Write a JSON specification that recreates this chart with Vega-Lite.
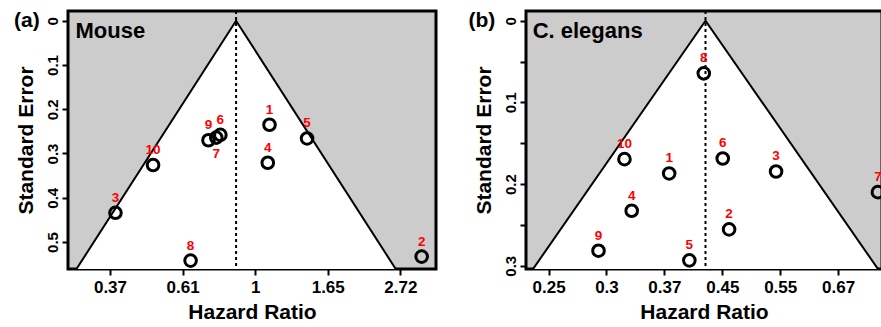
{
  "$schema": "https://vega.github.io/schema/vega-lite/v6.json",
  "padding": {"left": 12, "top": 8, "right": 0, "bottom": 0},
  "background": "white",
  "spacing": 90,
  "bounds": "flush",
  "config": {
    "view": {"fill": "#cccccc", "stroke": "black", "strokeWidth": 3},
    "font": "Liberation Sans",
    "axis": {
      "domain": false, "grid": false, "ticks": true, "tickColor": "black", "tickWidth": 2, "tickSize": 6,
      "labelFont": "Liberation Sans", "labelFontWeight": "bold", "labelFontSize": 17, "labelColor": "black",
      "titleFont": "Liberation Sans", "titleFontWeight": "bold", "titleFontSize": 21, "titleColor": "black",
      "labelOverlap": false, "labelPadding": 4
    },
    "axisY": {"labelFontSize": 15, "labelAngle": -90, "labelAlign": "center", "labelBaseline": "bottom", "labelPadding": 2, "titlePadding": 9},
    "axisX": {"titlePadding": 6}
  },
  "datasets": {
    "mouse": [
      {"id": 1, "hr": 1.104, "se": 0.235},
      {"id": 2, "hr": 3.149, "se": 0.533},
      {"id": 3, "hr": 0.382, "se": 0.434},
      {"id": 4, "hr": 1.091, "se": 0.321},
      {"id": 5, "hr": 1.430, "se": 0.266},
      {"id": 6, "hr": 0.787, "se": 0.258},
      {"id": 7, "hr": 0.765, "se": 0.264},
      {"id": 8, "hr": 0.641, "se": 0.542},
      {"id": 9, "hr": 0.725, "se": 0.270},
      {"id": 10, "hr": 0.495, "se": 0.326}
    ],
    "mouseFunnel": [
      {"se": 0, "lo": 0.877, "hi": 0.877},
      {"se": 0.6, "lo": 0.2706, "hi": 2.843}
    ],
    "mouseInfo": [{"center": 0.877, "name": "Mouse", "tag": "(a)"}],
    "worm": [
      {"id": 1, "hr": 0.374, "se": 0.187},
      {"id": 2, "hr": 0.460, "se": 0.2555},
      {"id": 3, "hr": 0.541, "se": 0.1846},
      {"id": 4, "hr": 0.3286, "se": 0.2327},
      {"id": 5, "hr": 0.401, "se": 0.2934},
      {"id": 6, "hr": 0.450, "se": 0.1687},
      {"id": 7, "hr": 0.769, "se": 0.2099},
      {"id": 8, "hr": 0.4215, "se": 0.0644},
      {"id": 9, "hr": 0.293, "se": 0.2816},
      {"id": 10, "hr": 0.3205, "se": 0.1695}
    ],
    "wormFunnel": [
      {"se": 0, "lo": 0.424, "hi": 0.424},
      {"se": 0.32, "lo": 0.2265, "hi": 0.7937}
    ],
    "wormInfo": [{"center": 0.424, "name": "C. elegans", "tag": "(b)"}]
  },
  "hconcat": [
    {
      "width": 368, "height": 258,
      "layer": [
        {
          "data": {"name": "mouseFunnel"},
          "mark": {"type": "area", "orient": "horizontal", "fill": "white", "stroke": "black", "strokeWidth": 2, "clip": true},
          "encoding": {
            "y": {"field": "se", "type": "quantitative",
              "scale": {"domain": [-0.022, 0.561], "reverse": true, "nice": false, "zero": false},
              "axis": {"title": "Standard Error", "values": [0, 0.1, 0.2, 0.3, 0.4, 0.5], "format": ".1~f"}},
            "x": {"field": "lo", "type": "quantitative",
              "scale": {"type": "log", "domain": [0.2755, 3.476], "nice": false},
              "axis": {"title": "Hazard Ratio", "values": [0.36788, 0.60653, 1, 1.64872, 2.71828], "labelExpr": "format(datum.value, '.2~f')"}},
            "x2": {"field": "hi"}
          }
        },
        {
          "data": {"name": "mouseInfo"},
          "mark": {"type": "rule", "strokeDash": [3, 3], "strokeWidth": 2, "color": "black"},
          "encoding": {"x": {"field": "center", "type": "quantitative"}}
        },
        {
          "data": {"name": "mouse"},
          "mark": {"type": "point", "shape": "circle", "filled": false, "stroke": "black", "strokeWidth": 3, "size": 135, "opacity": 1, "clip": true},
          "encoding": {
            "x": {"field": "hr", "type": "quantitative"},
            "y": {"field": "se", "type": "quantitative"}
          }
        },
        {
          "data": {"name": "mouse"},
          "transform": [{"filter": "datum.id != 7"}],
          "mark": {"type": "text", "color": "#ff0000", "fontWeight": "bold", "fontSize": 13.5, "dy": -15, "clip": true},
          "encoding": {
            "x": {"field": "hr", "type": "quantitative"},
            "y": {"field": "se", "type": "quantitative"},
            "text": {"field": "id"}
          }
        },
        {
          "data": {"name": "mouse"},
          "transform": [{"filter": "datum.id == 7"}],
          "mark": {"type": "text", "color": "#ff0000", "fontWeight": "bold", "fontSize": 13.5, "dy": 16, "clip": true},
          "encoding": {
            "x": {"field": "hr", "type": "quantitative"},
            "y": {"field": "se", "type": "quantitative"},
            "text": {"field": "id"}
          }
        },
        {
          "data": {"name": "mouseInfo"},
          "mark": {"type": "text", "fontWeight": "bold", "fontSize": 22, "align": "left", "baseline": "alphabetic", "color": "black"},
          "encoding": {
            "x": {"datum": 0.29, "type": "quantitative"},
            "y": {"datum": 0.038, "type": "quantitative"},
            "text": {"field": "name"}
          }
        },
        {
          "data": {"name": "mouseInfo"},
          "mark": {"type": "text", "fontWeight": "bold", "fontSize": 21, "align": "left", "baseline": "middle", "color": "black"},
          "encoding": {
            "x": {"datum": 0.19, "type": "quantitative"},
            "y": {"datum": 0.0, "type": "quantitative"},
            "text": {"field": "tag"}
          }
        }
      ]
    },
    {
      "width": 356, "height": 258,
      "layer": [
        {
          "data": {"name": "wormFunnel"},
          "mark": {"type": "area", "orient": "horizontal", "fill": "white", "stroke": "black", "strokeWidth": 2, "clip": true},
          "encoding": {
            "y": {"field": "se", "type": "quantitative",
              "scale": {"domain": [-0.0119, 0.304], "reverse": true, "nice": false, "zero": false},
              "axis": {"title": "Standard Error", "values": [0, 0.05, 0.1, 0.15, 0.2, 0.25, 0.3], "labelExpr": "round(datum.value * 20) % 2 == 0 ? format(datum.value, '.1~f') : ''"}},
            "x": {"field": "lo", "type": "quantitative",
              "scale": {"type": "log", "domain": [0.2281, 0.780], "nice": false},
              "axis": {"title": "Hazard Ratio", "values": [0.2466, 0.30119, 0.36788, 0.44933, 0.54881, 0.67032], "labelExpr": "format(datum.value, '.2~f')"}},
            "x2": {"field": "hi"}
          }
        },
        {
          "data": {"name": "wormInfo"},
          "mark": {"type": "rule", "strokeDash": [3, 3], "strokeWidth": 2, "color": "black"},
          "encoding": {"x": {"field": "center", "type": "quantitative"}}
        },
        {
          "data": {"name": "worm"},
          "mark": {"type": "point", "shape": "circle", "filled": false, "stroke": "black", "strokeWidth": 3, "size": 135, "opacity": 1, "clip": true},
          "encoding": {
            "x": {"field": "hr", "type": "quantitative"},
            "y": {"field": "se", "type": "quantitative"}
          }
        },
        {
          "data": {"name": "worm"},
          "mark": {"type": "text", "color": "#ff0000", "fontWeight": "bold", "fontSize": 13.5, "dy": -15, "clip": true},
          "encoding": {
            "x": {"field": "hr", "type": "quantitative"},
            "y": {"field": "se", "type": "quantitative"},
            "text": {"field": "id"}
          }
        },
        {
          "data": {"name": "wormInfo"},
          "mark": {"type": "text", "fontWeight": "bold", "fontSize": 22, "align": "left", "baseline": "alphabetic", "color": "black"},
          "encoding": {
            "x": {"datum": 0.2334, "type": "quantitative"},
            "y": {"datum": 0.0208, "type": "quantitative"},
            "text": {"field": "name"}
          }
        },
        {
          "data": {"name": "wormInfo"},
          "mark": {"type": "text", "fontWeight": "bold", "fontSize": 21, "align": "left", "baseline": "middle", "color": "black"},
          "encoding": {
            "x": {"datum": 0.187, "type": "quantitative"},
            "y": {"datum": 0.0, "type": "quantitative"},
            "text": {"field": "tag"}
          }
        }
      ]
    }
  ]
}
